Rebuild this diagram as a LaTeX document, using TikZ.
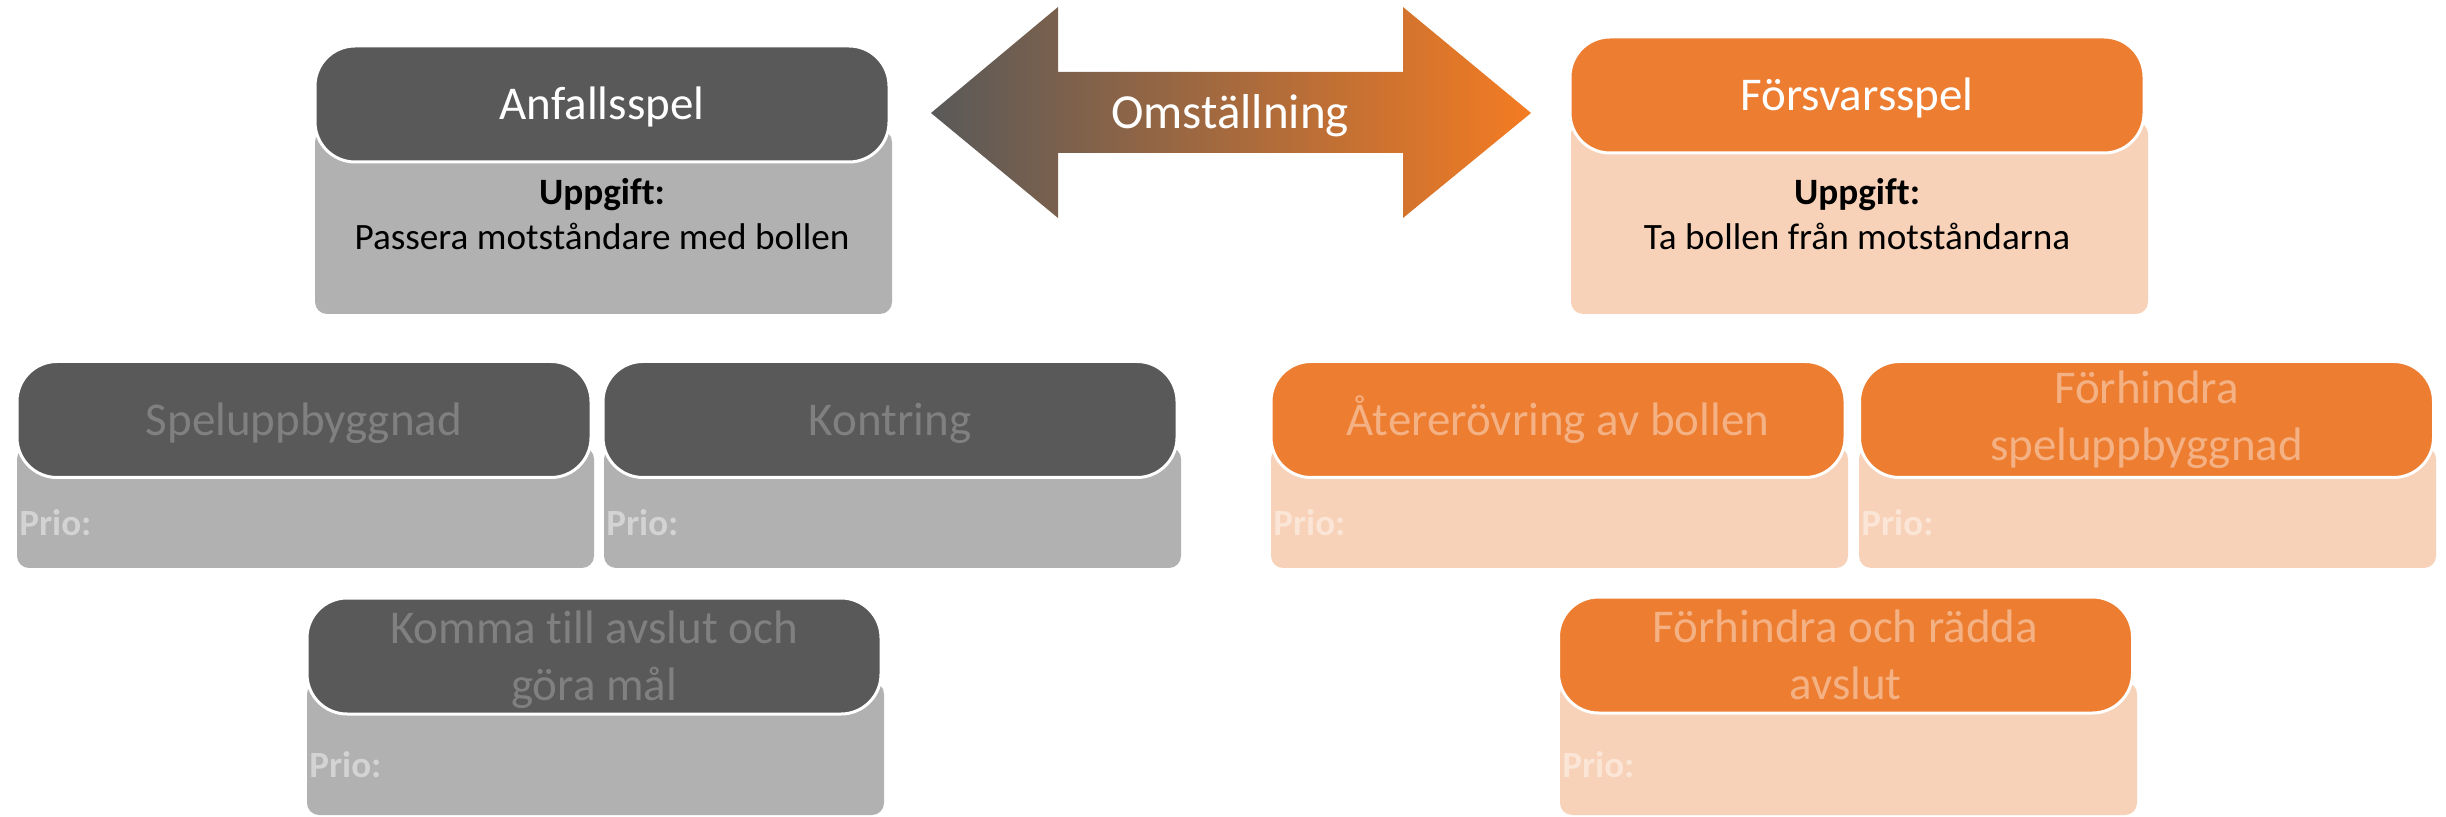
\documentclass[tikz,border=0pt]{standalone}
\usepackage{fontspec}
\setmainfont[Ligatures=NoCommon]{Carlito}
\definecolor{dgray}{HTML}{595959}
\definecolor{lgray}{HTML}{B1B1B1}
\definecolor{fgray}{HTML}{808080}
\definecolor{pgray}{HTML}{D3D3D3}
\definecolor{orng}{HTML}{ED7D31}
\definecolor{lorng}{HTML}{F8D2B8}
\definecolor{forng}{HTML}{F4B183}
\definecolor{porng}{HTML}{FBE5D6}
\definecolor{amid}{HTML}{D4691D}
\definecolor{aright}{HTML}{F47B22}
\tikzset{
  hdr/.style={draw=white, line width=1.5pt, rounded corners=20pt, minimum width=287pt, minimum height=58pt, inner sep=0pt, align=center, font=\fontsize{23.5}{28.5}\selectfont},
  oneline/.style={text height=16pt, text depth=0pt},
  hdrG/.style={hdr, fill=dgray},
  hdrO/.style={hdr, fill=orng},
  bodybox/.style={rounded corners=6pt, minimum width=288.5pt, inner sep=0pt},
  bodyG/.style={bodybox, fill=lgray},
  bodyO/.style={bodybox, fill=lorng},
  task/.style={anchor=base, align=center, font=\fontsize{18.6}{22.5}\selectfont, text=black},
  prio/.style={anchor=base west, inner sep=0pt, font=\fontsize{18.5}{22}\selectfont\bfseries},
}
\newcommand\nodepth[1]{\raisebox{0pt}[\height][0pt]{#1}}
\begin{document}
\begin{tikzpicture}[x=0.5pt, y=-0.5pt]
\useasboundingbox (0,0) rectangle (2446,817);
% transition arrow
\path[left color=dgray, middle color=amid, right color=aright, shading=axis]
  (931,113) -- (1058,7) -- (1058,72) -- (1403,72) -- (1403,7) -- (1531,113)
  -- (1403,218) -- (1403,153) -- (1058,153) -- (1058,218) -- cycle;
\node[anchor=base, inner sep=0pt, text=white, font=\fontsize{24.5}{29}\selectfont] (oms) at (1230,129) {Omställning};
% Anfallsspel
\node[bodyG, minimum height=92pt] (Ab) at (603.5,222) {};
\node[hdrG, oneline, text=white] (Ah) at (602,104) {Anfallsspel};
\node[task] (At) at (602,250) {\textbf{Uppgift:}\\Passera motståndare med bollen};
% Försvarsspel
\node[bodyO, minimum height=96pt] (Fb) at (1859.5,218) {};
\node[hdrO, oneline, text=white] (Fh) at (1857,95) {Försvarsspel};
\node[task] (Ft) at (1857,250) {\textbf{Uppgift:}\\Ta bollen från motståndarna};
% row 2 left
\node[bodyG, minimum height=60.5pt] (Sb) at (305.5,507.5) {};
\node[hdrG, oneline, text=fgray] (Sh) at (304,419.5) {Speluppbyggnad};
\node[prio, text=pgray] (Sp) at (19,536) {Prio:};
\node[bodyG, minimum height=60.5pt] (Kb) at (892.5,507.5) {};
\node[hdrG, oneline, text=fgray] (Kh) at (890,419.5) {Kontring};
\node[prio, text=pgray] (Kp) at (606,536) {Prio:};
% row 2 right
\node[bodyO, minimum height=60.5pt] (Rb) at (1559.5,507.5) {};
\node[hdrO, oneline, text=forng] (Rh) at (1558,419.5) {Återerövring av bollen};
\node[prio, text=porng] (Rp) at (1273,536) {Prio:};
\node[bodyO, minimum height=60.5pt] (Pb) at (2147.5,507.5) {};
\node[hdrO, text=forng] (Ph) at (2146.5,419.5) {Förhindra\\speluppbyggnad};
\node[prio, text=porng] (Pp) at (1861,536) {Prio:};
% row 3
\node[bodyG, minimum height=66.5pt] (Mb) at (595.5,748.5) {};
\node[hdrG, text=fgray] (Mh) at (594,656) {Komma till avslut och\\\nodepth{göra mål}};
\node[prio, text=pgray] (Mp) at (309,777) {Prio:};
\node[bodyO, minimum height=66.5pt] (Db) at (1848.5,748.5) {};
\node[hdrO, text=forng] (Dh) at (1845.5,655) {Förhindra och rädda\\avslut};
\node[prio, text=porng] (Dp) at (1562,777) {Prio:};
\end{tikzpicture}
\end{document}
